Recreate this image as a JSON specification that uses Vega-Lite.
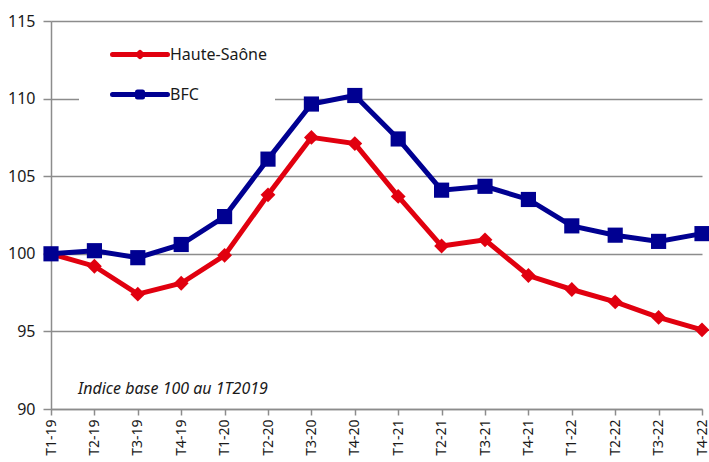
{
  "$schema": "https://vega.github.io/schema/vega-lite/v6.json",
  "autosize": "none",
  "width": 651,
  "height": 388,
  "padding": {"left": 51, "top": 21, "right": 7, "bottom": 53},
  "background": "white",
  "config": {
    "font": "Noto Sans",
    "view": {"stroke": null},
    "axis": {"domainColor": "#8c8c8c", "tickColor": "#8c8c8c", "gridColor": "#8c8c8c", "domainWidth": 1.5, "tickWidth": 1.5, "gridWidth": 1.5, "labelColor": "#1a1a1a", "title": null}
  },
  "data": {
    "values": [
      {"q": "T1-19", "s": "Haute-Saône", "v": 100},
      {"q": "T2-19", "s": "Haute-Saône", "v": 99.2},
      {"q": "T3-19", "s": "Haute-Saône", "v": 97.4},
      {"q": "T4-19", "s": "Haute-Saône", "v": 98.1},
      {"q": "T1-20", "s": "Haute-Saône", "v": 99.9},
      {"q": "T2-20", "s": "Haute-Saône", "v": 103.8},
      {"q": "T3-20", "s": "Haute-Saône", "v": 107.5},
      {"q": "T4-20", "s": "Haute-Saône", "v": 107.1},
      {"q": "T1-21", "s": "Haute-Saône", "v": 103.7},
      {"q": "T2-21", "s": "Haute-Saône", "v": 100.5},
      {"q": "T3-21", "s": "Haute-Saône", "v": 100.9},
      {"q": "T4-21", "s": "Haute-Saône", "v": 98.6},
      {"q": "T1-22", "s": "Haute-Saône", "v": 97.7},
      {"q": "T2-22", "s": "Haute-Saône", "v": 96.9},
      {"q": "T3-22", "s": "Haute-Saône", "v": 95.9},
      {"q": "T4-22", "s": "Haute-Saône", "v": 95.1},
      {"q": "T1-19", "s": "BFC", "v": 100},
      {"q": "T2-19", "s": "BFC", "v": 100.2},
      {"q": "T3-19", "s": "BFC", "v": 99.75},
      {"q": "T4-19", "s": "BFC", "v": 100.6},
      {"q": "T1-20", "s": "BFC", "v": 102.4},
      {"q": "T2-20", "s": "BFC", "v": 106.1},
      {"q": "T3-20", "s": "BFC", "v": 109.65},
      {"q": "T4-20", "s": "BFC", "v": 110.2},
      {"q": "T1-21", "s": "BFC", "v": 107.4},
      {"q": "T2-21", "s": "BFC", "v": 104.1},
      {"q": "T3-21", "s": "BFC", "v": 104.35},
      {"q": "T4-21", "s": "BFC", "v": 103.5},
      {"q": "T1-22", "s": "BFC", "v": 101.8},
      {"q": "T2-22", "s": "BFC", "v": 101.2},
      {"q": "T3-22", "s": "BFC", "v": 100.8},
      {"q": "T4-22", "s": "BFC", "v": 101.3}
    ]
  },
  "encoding": {
    "x": {"field": "q", "type": "ordinal", "sort": null, "scale": {"type": "point", "padding": 0},
      "axis": {"labelAngle": -90, "labelFontSize": 14, "labelAlign": "right", "labelBaseline": "middle", "tickSize": 6, "labelPadding": 4, "grid": false}},
    "y": {"field": "v", "type": "quantitative", "scale": {"domain": [90, 115], "nice": false, "zero": false},
      "axis": {"values": [90, 95, 100, 105, 110, 115], "labelFontSize": 16, "tickSize": 8, "labelPadding": 8, "grid": true}}
  },
  "layer": [
    {"mark": {"type": "line", "strokeWidth": 5},
      "encoding": {
        "color": {"field": "s", "type": "nominal", "scale": {"domain": ["Haute-Saône", "BFC"], "range": ["#E1000F", "#000091"]},
          "legend": {
            "orient": "none", "legendX": 28, "legendY": 4, "title": null,
            "fillColor": "white", "padding": 7, "rowPadding": 9,
            "labelFontSize": 16, "labelColor": "#1a1a1a", "labelOffset": 39,
            "symbolSize": 1600, "symbolStrokeWidth": 5,
            "encode": {"symbols": {"update": {
              "shape": {"signal": "datum.value === 'BFC' ? 'M0.2,0H2.95M1.45,-0.125H1.7V0.125H1.45Z' : 'M0.2,0H2.95M1.575,-0.1L1.675,0L1.575,0.1L1.475,0Z'"},
              "fill": {"signal": "datum.value === 'BFC' ? '#000091' : '#E1000F'"},
              "stroke": {"signal": "datum.value === 'BFC' ? '#000091' : '#E1000F'"},
              "strokeCap": {"value": "round"},
              "strokeJoin": {"value": "round"},
              "opacity": {"value": 1}
            }}}
          }}
      }},
    {"transform": [{"filter": "datum.s === 'Haute-Saône'"}],
      "mark": {"type": "point", "filled": true, "opacity": 1, "shape": "diamond", "size": 220, "color": "#E1000F"}},
    {"transform": [{"filter": "datum.s === 'BFC'"}],
      "mark": {"type": "point", "filled": true, "opacity": 1, "shape": "square", "size": 230, "color": "#000091"}},
    {"transform": [{"filter": "datum.s === 'BFC' && datum.q === 'T1-19'"}],
      "mark": {"type": "text", "align": "left", "baseline": "middle", "fontSize": 16, "fontStyle": "italic", "color": "#1a1a1a", "dx": 27},
      "encoding": {"y": {"datum": 91.3}, "text": {"value": "Indice base 100 au 1T2019"}}}
  ]
}
